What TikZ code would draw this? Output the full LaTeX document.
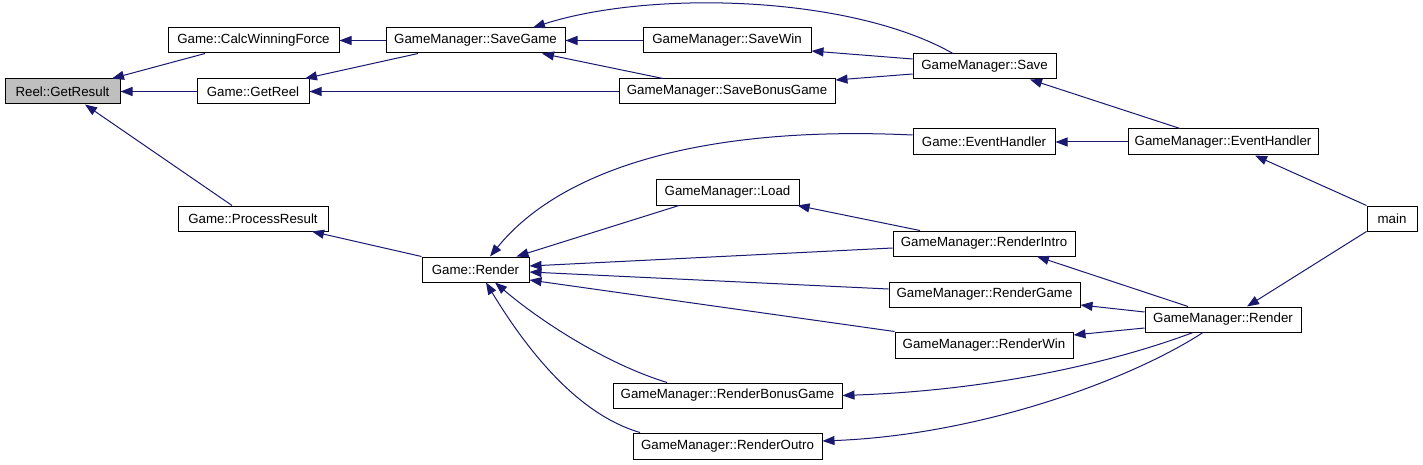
\documentclass[tikz,border=0pt]{standalone}
\usepackage{fontspec}
\setmainfont{Liberation Sans}
\usetikzlibrary{arrows.meta}
\definecolor{edgecol}{HTML}{191970}
\definecolor{hlfill}{HTML}{BFBFBF}
\tikzset{
  nd/.style={draw=black, line width=1pt, fill=white, inner sep=0pt,
    minimum height=25pt, font=\fontsize{13.3}{15}\selectfont},
  ed/.style={draw=edgecol, line width=1pt, -{Triangle[length=12pt,width=9pt]}}
}
\begin{document}
\begin{tikzpicture}[x=1pt,y=-1pt]
\useasboundingbox[fill=white] (0,0) rectangle (1423,465);
% nodes
\node[nd, fill=hlfill, minimum width=115pt] (res) at (62.5,91.5) {Reel::GetResult};
\node[nd, minimum width=171pt] (cwf) at (253.5,40.5) {Game::CalcWinningForce};
\node[nd, minimum width=112pt] (getreel) at (253,91.5) {Game::GetReel};
\node[nd, minimum width=150pt] (proc) at (253,218.5) {Game::ProcessResult};
\node[nd, minimum width=179pt] (savegame) at (475.5,40.5) {GameManager::SaveGame};
\node[nd, minimum width=168pt] (savewin) at (727,40.5) {GameManager::SaveWin};
\node[nd, minimum width=216pt] (savebonus) at (727,91.5) {GameManager::SaveBonusGame};
\node[nd, minimum width=143pt] (save) at (984.5,66.5) {GameManager::Save};
\node[nd, minimum width=142pt, minimum height=26pt] (gev) at (984,142) {Game::EventHandler};
\node[nd, minimum width=190pt, minimum height=26pt] (gmev) at (1223,142) {GameManager::EventHandler};
\node[nd, minimum width=50pt] (main) at (1392,218.5) {main};
\node[nd, minimum width=107pt] (grender) at (475.5,269.5) {Game::Render};
\node[nd, minimum width=143pt] (load) at (727.5,192.5) {GameManager::Load};
\node[nd, minimum width=182pt] (rintro) at (984,243.5) {GameManager::RenderIntro};
\node[nd, minimum width=191pt] (rgame) at (984.5,294.5) {GameManager::RenderGame};
\node[nd, minimum width=178pt, minimum height=26pt] (rwin) at (984,345) {GameManager::RenderWin};
\node[nd, minimum width=229pt] (rbonus) at (727.5,395.5) {GameManager::RenderBonusGame};
\node[nd, minimum width=189pt, minimum height=26pt] (routro) at (727.5,446) {GameManager::RenderOutro};
\node[nd, minimum width=156pt] (gmrender) at (1223,319.5) {GameManager::Render};
% edges
\draw[ed] ([xshift=-48.5pt]cwf.south) -- ([xshift=49.5pt]res.north);
\draw[ed] (getreel.west) -- (res.east);
\draw[ed] ([xshift=-21pt]proc.north) -- ([xshift=22.5pt]res.south);
\draw[ed] (savegame.west) -- (cwf.east);
\draw[ed] ([xshift=-57.5pt]savegame.south) -- ([xshift=52pt]getreel.north);
\draw[ed] (savebonus.west) -- (getreel.east);
\draw[ed] (grender.north west) -- ([xshift=59pt]proc.south);
\draw[ed] (savewin.west) -- (savegame.east);
\draw[ed] ([xshift=-64pt]savebonus.north) -- ([xshift=66.5pt]savegame.south);
\draw[ed] ([xshift=-31.5pt]save.north) .. controls (850,-5) and (650,-10) .. ([xshift=57.5pt]savegame.north);
\draw[ed] ([yshift=7.5pt]save.west) -- ([yshift=-10.5pt]savewin.east);
\draw[ed] ([yshift=-7.5pt]save.west) -- ([yshift=11.5pt]savebonus.east);
\draw[ed] ([xshift=-43pt]gmev.north) -- ([xshift=45.5pt]save.south);
\draw[ed] (gmev.west) -- (gev.east);
\draw[ed] (main.north west) -- ([xshift=32pt]gmev.south);
\draw[ed] (main.south west) -- ([xshift=24pt]gmrender.north);
\draw[ed] ([yshift=7pt]gev.west) .. controls (700,125) and (560,170) .. ([xshift=14.5pt]grender.north);
\draw[ed] ([xshift=-48.5pt]load.south) -- ([xshift=41pt]grender.north);
\draw[ed] ([xshift=-64pt]rintro.north) -- ([xshift=-2pt]load.south east);
\draw[ed] ([yshift=-4.5pt]rintro.west) -- ([yshift=3.5pt]grender.east);
\draw[ed] ([yshift=5.5pt]rgame.west) -- ([yshift=-2.5pt]grender.east);
\draw[ed] (rwin.north west) -- ([yshift=-10.5pt]grender.east);
\draw[ed] ([xshift=-60.5pt]rbonus.north) .. controls (610,365) and (545,325) .. ([xshift=19.5pt]grender.south);
\draw[ed] ([xshift=-87.5pt]routro.north) .. controls (580,415) and (530,355) .. ([xshift=10.5pt]grender.south);
\draw[ed] ([xshift=-35pt]gmrender.north) -- ([xshift=53pt]rintro.south);
\draw[ed] ([yshift=7.5pt]gmrender.west) -- ([yshift=-10.5pt]rgame.east);
\draw[ed] ([yshift=-8.5pt]gmrender.west) -- ([yshift=10pt]rwin.east);
\draw[ed] ([xshift=-30pt]gmrender.south) .. controls (1120,360) and (1000,390) .. (rbonus.east);
\draw[ed] ([xshift=-20pt]gmrender.south) .. controls (1130,380) and (980,435) .. ([yshift=5pt]routro.east);
\end{tikzpicture}
\end{document}
